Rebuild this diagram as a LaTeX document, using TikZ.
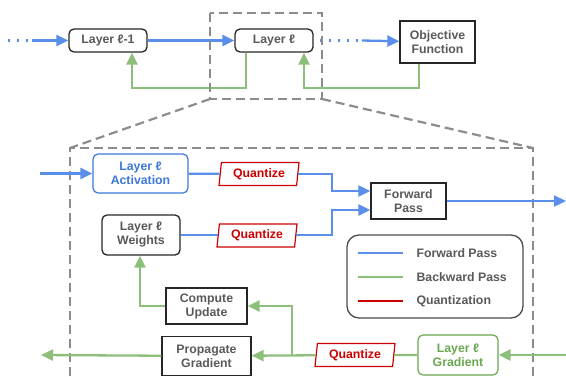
\documentclass[tikz,border=0pt]{standalone}
\usepackage{fontspec}
\setmainfont{Liberation Sans}
\usetikzlibrary{arrows.meta, shapes.geometric}
\definecolor{fwdblue}{HTML}{5A8EE8}
\definecolor{actblue}{HTML}{3C78D8}
\definecolor{bwdgreen}{HTML}{8CC07A}
\definecolor{gradgreen}{HTML}{6AA84F}
\definecolor{qred}{HTML}{CC0000}
\definecolor{txtgray}{HTML}{595959}
\definecolor{zoomgray}{HTML}{8C8C8C}

\begin{document}
\begin{tikzpicture}[x=1pt, y=-1pt,
        lbl/.style={text=txtgray, font=\bfseries\fontsize{12.3}{14}\selectfont},
        box/.style={lbl, draw=black!85, line width=1.3pt, align=center, inner sep=0pt},
        rbox/.style={box, rounded corners=5pt},
        quant/.style={trapezium, trapezium left angle=78, trapezium right angle=102,
            trapezium stretches body, draw=qred, text=qred, line width=1.2pt,
            font=\bfseries\fontsize{12.3}{14}\selectfont, inner sep=0pt,
            minimum width=80pt, minimum height=23pt},
        fwdline/.style={draw=fwdblue, line width=2.3pt},
        bwdline/.style={draw=bwdgreen, line width=2.3pt},
        qline/.style={draw=qred, line width=2.3pt},
        tip/.style={-{Triangle[length=12pt, width=11pt]}},
        dots/.style={dash pattern=on 2pt off 7pt},
        zoomline/.style={draw=zoomgray, line width=2.2pt, dash pattern=on 9pt off 5pt}]
    \useasboundingbox (0,0) rectangle (566,376);

    \node[rbox, minimum width=78pt, minimum height=23pt] (lm) at (108,40.5) {Layer ℓ-1};
    \node[rbox, minimum width=78pt, minimum height=23pt] (l) at (274,40.5) {Layer ℓ};
    \node[box, minimum width=75pt, minimum height=42pt] (obj) at (437.5,42) {Objective\\Function};
    \coordinate (s0) at (8,40.5);
    \coordinate (s1) at (32,40.5);
    \coordinate (d0) at (320,40.5);
    \coordinate (d1) at (362,40.5);

    \draw[fwdline, dots] (s0) -- (s1);
    \draw[fwdline, tip] (s1) -- (lm);
    \draw[fwdline, tip] (lm) -- (l);
    \draw[fwdline, dots] (d0) -- (d1);
    \draw[fwdline, tip] (d1) -- (obj);
    \draw[bwdline, tip] (l.south -| 246,0) |- (132,88) -- (lm.south -| 132,0);
    \draw[bwdline, tip] (obj.south -| 419,0) |- (304,88) -- (l.south -| 304,0);

    \draw[zoomline] (210,13) rectangle (322,99);
    \draw[zoomline] (210,99) -- (70,148);
    \draw[zoomline] (322,99) -- (533,148);
    \draw[zoomline] (70,376) -- (70,148) -- (533,148) -- (533,376);

    \node[rbox, draw=actblue, text=actblue, line width=1.2pt, minimum width=95pt, minimum height=39pt]
        (act) at (140.5,173.5) {Layer ℓ\\Activation};
    \node[rbox, minimum width=78pt, minimum height=40pt] (wts) at (141,235) {Layer ℓ\\Weights};
    \node[quant] (qa) at (259,174) {Quantize};
    \node[quant] (qw) at (257,235.5) {Quantize};
    \node[box, minimum width=75pt, minimum height=36pt] (fp) at (408.5,201) {Forward\\Pass};
    \node[box, minimum width=81pt, minimum height=36pt] (cu) at (206.5,306) {Compute\\Update};
    \node[box, minimum width=89pt, minimum height=39pt] (pg) at (206.5,356) {Propagate\\Gradient};
    \node[quant] (qg) at (355,355) {Quantize};
    \node[rbox, draw=gradgreen, text=gradgreen, line width=1.2pt, minimum width=80pt, minimum height=40pt]
        (lg) at (458,355) {Layer ℓ\\Gradient};
    \coordinate (ain) at (40,173.5);
    \coordinate (fout) at (566,201);
    \coordinate (gin) at (566,355);
    \coordinate (gout) at (41,355);
    \coordinate (br) at (292,355);

    \draw[fwdline, tip] (ain) -- (act);
    \draw[fwdline] (act) -- (qa);
    \draw[fwdline, tip] (qa.east) -| (332,191) -- (fp.west |- 0,191);
    \draw[fwdline] (wts) -- (qw.west |- wts);
    \draw[fwdline, tip] (qw.east |- wts) -| (332,210) -- (fp.west |- 0,210);
    \draw[fwdline, tip] (fp) -- (fout);
    \draw[bwdline, tip] (gin) -- (lg);
    \draw[bwdline] (lg) -- (qg);
    \draw[bwdline, tip] (qg) -- (pg);
    \draw[bwdline, tip] (br) |- (cu);
    \draw[bwdline, tip] (cu.west) -| (wts.south -| 140,0);
    \draw[bwdline, tip] (pg) -- (gout);

    \draw[draw=black!70, line width=1.3pt, rounded corners=12pt] (347,235) rectangle (523,318);
    \node[lbl, anchor=west] (kf) at (413,253) {Forward Pass};
    \node[lbl, anchor=west] (kb) at (413,277) {Backward Pass};
    \node[lbl, anchor=west] (kq) at (413,301) {Quantization};
    \draw[fwdline] (358,253) -- (403,253);
    \draw[bwdline] (358,277) -- (403,277);
    \draw[qline] (358,301) -- (403,301);
\end{tikzpicture}
\end{document}
